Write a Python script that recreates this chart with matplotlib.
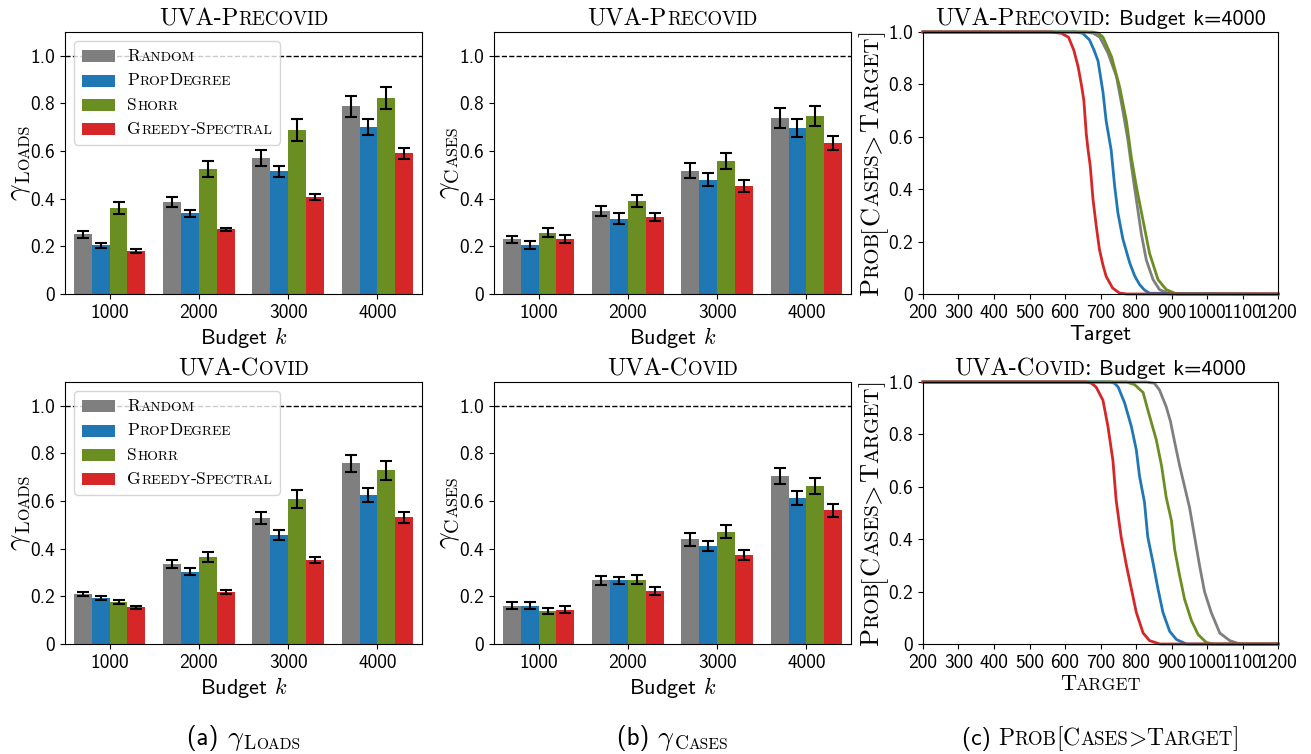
import matplotlib
matplotlib.use('Agg')
import matplotlib.pyplot as plt
import numpy as np
from matplotlib.transforms import offset_copy
from matplotlib.offsetbox import AnchoredOffsetbox, HPacker, VPacker, TextArea, DrawingArea
from matplotlib.patches import Rectangle

plt.rcParams['mathtext.fontset'] = 'cm'
plt.rcParams['font.family'] = 'cmss10'
plt.rcParams['axes.unicode_minus'] = False

methods = ['Random', 'PropDegree', 'Shorr', 'Greedy-Spectral']
colors = ['#7f7f7f', '#1f77b4', '#6b8e23', '#d62728']
budgets = ['1000', '2000', '3000', '4000']
yticks = [0, 0.2, 0.4, 0.6, 0.8, 1.0]
ytick_labels = ['0', '0.2', '0.4', '0.6', '0.8', '1.0']
target_ticks = [200, 300, 400, 500, 600, 700, 800, 900, 1000, 1100, 1200]

# gamma_loads / gamma_cases, rows = methods, cols = budgets
loads_pre = [[0.251, 0.387, 0.571, 0.788], [0.205, 0.339, 0.515, 0.701],
             [0.360, 0.524, 0.689, 0.823], [0.180, 0.272, 0.406, 0.591]]
loads_pre_err = [[0.015, 0.022, 0.034, 0.043], [0.010, 0.014, 0.023, 0.034],
                 [0.026, 0.033, 0.045, 0.047], [0.007, 0.007, 0.012, 0.024]]
cases_pre = [[0.229, 0.349, 0.517, 0.739], [0.205, 0.316, 0.479, 0.697],
             [0.257, 0.391, 0.559, 0.747], [0.232, 0.324, 0.454, 0.634]]
cases_pre_err = [[0.015, 0.022, 0.031, 0.040], [0.017, 0.022, 0.027, 0.036],
                 [0.019, 0.026, 0.034, 0.042], [0.016, 0.018, 0.024, 0.030]]
loads_cov = [[0.209, 0.335, 0.528, 0.758], [0.193, 0.303, 0.457, 0.624],
             [0.176, 0.366, 0.608, 0.729], [0.155, 0.219, 0.352, 0.532]]
loads_cov_err = [[0.008, 0.017, 0.025, 0.037], [0.008, 0.014, 0.022, 0.029],
                 [0.008, 0.021, 0.037, 0.041], [0.006, 0.009, 0.014, 0.022]]
cases_cov = [[0.161, 0.267, 0.440, 0.705], [0.161, 0.267, 0.412, 0.613],
             [0.138, 0.270, 0.471, 0.663], [0.144, 0.222, 0.373, 0.561]]
cases_cov_err = [[0.014, 0.020, 0.027, 0.035], [0.014, 0.016, 0.022, 0.029],
                 [0.013, 0.018, 0.028, 0.033], [0.014, 0.018, 0.021, 0.028]]

# Prob[Cases > Target] curves, budget k=4000
pre_gray_t = [200, 660, 680, 698, 721, 745, 763, 777, 787, 801, 815, 829, 848, 866, 895, 1200]
pre_gray_p = [1, 1, 0.995, 0.98, 0.92, 0.83, 0.70, 0.59, 0.49, 0.36, 0.23, 0.13, 0.055, 0.017, 0, 0]
pre_blue_t = [200, 630, 650, 669, 682, 693, 707, 716, 730, 740, 749, 763, 782, 796, 810, 824, 838, 1200]
pre_blue_p = [1, 1, 0.995, 0.97, 0.93, 0.89, 0.77, 0.66, 0.55, 0.41, 0.31, 0.21, 0.12, 0.07, 0.036, 0.015, 0.003, 0]
pre_green_t = [200, 679, 695, 707, 731, 754, 773, 787, 801, 820, 838, 862, 885, 914, 1200]
pre_green_p = [1, 1, 0.995, 0.98, 0.906, 0.79, 0.66, 0.52, 0.41, 0.28, 0.156, 0.055, 0.017, 0, 0]
pre_red_t = [200, 560, 590, 610, 625, 637, 646, 653, 660, 665, 671, 679, 688, 697, 707, 716, 734, 753, 773, 1200]
pre_red_p = [1, 1, 0.995, 0.98, 0.93, 0.867, 0.80, 0.74, 0.61, 0.55, 0.49, 0.36, 0.26, 0.17, 0.11, 0.067, 0.023, 0.004, 0, 0]

cov_gray_t = [200, 829, 852, 866, 885, 897, 909, 923, 937, 951, 965, 979, 993, 1012, 1036, 1064, 1092, 1200]
cov_gray_p = [1, 1, 0.995, 0.97, 0.906, 0.85, 0.77, 0.68, 0.60, 0.52, 0.41, 0.30, 0.20, 0.12, 0.042, 0.013, 0, 0]
cov_blue_t = [200, 726, 740, 750, 768, 787, 801, 810, 824, 833, 848, 862, 876, 895, 914, 942, 1200]
cov_blue_p = [1, 1, 0.995, 0.98, 0.92, 0.83, 0.74, 0.64, 0.54, 0.41, 0.31, 0.21, 0.12, 0.048, 0.017, 0, 0]
cov_green_t = [200, 773, 796, 820, 834, 857, 872, 885, 900, 909, 923, 937, 956, 975, 998, 1017, 1200]
cov_green_p = [1, 1, 0.99, 0.96, 0.89, 0.78, 0.68, 0.56, 0.47, 0.36, 0.26, 0.17, 0.09, 0.036, 0.006, 0, 0]
cov_red_t = [200, 660, 675, 688, 707, 721, 735, 744, 758, 773, 787, 801, 820, 838, 867, 1200]
cov_red_p = [1, 1, 0.995, 0.98, 0.93, 0.83, 0.70, 0.55, 0.41, 0.30, 0.21, 0.12, 0.042, 0.013, 0, 0]


def small_caps(word, big, small, fam='cmr10'):
    # fake \textsc: first letter large, rest upper case at a smaller size
    return [(word[0], big, fam, 0), (word[1:].upper(), small, fam, 0)]


def sc_text(fig, x, y, pieces, trans, rot=0, ox=0, oy=0):
    # lay text pieces one after the other, centered on (x, y)
    r = fig.canvas.get_renderer()
    arts = []
    pos = 0.0
    for s, size, fam, shift in pieces:
        t = fig.text(x, y, s, fontsize=size, family=fam, rotation=rot,
                     rotation_mode='anchor', ha='left', va='baseline', transform=trans)
        arts.append((t, pos, shift))
        bb = t.get_window_extent(r)
        pos += bb.width if rot == 0 else bb.height
    k = fig.dpi / 72.0
    for t, p, sh in arts:
        if rot == 0:
            dx, dy = ox * k - pos / 2 + p, (oy - sh) * k
        else:
            dx, dy = (ox + sh) * k, oy * k - pos / 2 + p
        t.set_transform(offset_copy(trans, fig=fig, x=dx, y=dy, units='dots'))


def bar_panel(ax, vals, errs):
    x = np.arange(len(budgets))
    w = 0.2
    for i in range(len(methods)):
        ax.bar(x + (i - 1.5) * w, vals[i], w, yerr=errs[i], color=colors[i], capsize=4,
               error_kw=dict(ecolor='k', elinewidth=1.5, capthick=1.5), zorder=2)
    ax.axhline(1.0, color='k', ls='--', lw=1, zorder=1)
    ax.set_xlim(-0.5, 3.5)
    ax.set_ylim(0, 1.1)
    ax.set_xticks(x)
    ax.set_xticklabels(budgets)
    ax.set_yticks(yticks)
    ax.set_yticklabels(ytick_labels)
    ax.tick_params(labelsize=14)
    ax.set_xlabel('Budget $k$', fontsize=16, labelpad=2)


def add_legend(ax):
    rows = []
    for name, c in zip(methods, colors):
        da = DrawingArea(24, 8.5, 0, 0)
        da.add_artist(Rectangle((0, 0), 24, 8.5, fc=c, ec='none'))
        pcs = []
        for j, seg in enumerate(name.split('-')):
            if j > 0:
                pcs.append(('-', 12.5, 'cmr10', 0))
            caps = [i for i, ch in enumerate(seg) if ch.isupper()]
            caps.append(len(seg))
            for a, b in zip(caps[:-1], caps[1:]):
                pcs += small_caps(seg[a:b], 12.5, 9.8)
        txt = HPacker(children=[TextArea(s, textprops=dict(fontsize=sz, family=f)) for s, sz, f, _ in pcs],
                      align='baseline', pad=0, sep=0)
        rows.append(HPacker(children=[da, txt], align='center', pad=0, sep=9))
    box = VPacker(children=rows, align='left', pad=0, sep=6.5)
    anch = AnchoredOffsetbox(loc='upper left', child=box, pad=0.45, borderpad=0.55,
                             frameon=True, prop=dict(size=12))
    anch.patch.set_boxstyle('round,pad=0,rounding_size=0.25')
    anch.patch.set_edgecolor('0.8')
    anch.patch.set_alpha(0.8)
    anch.zorder = 5
    ax.add_artist(anch)


def curve_panel(ax, curves):
    for t, p, c in curves:
        ax.plot(t, p, color=c, lw=2, clip_on=False)
    ax.set_xlim(200, 1200)
    ax.set_ylim(0, 1.0)
    ax.set_xticks(target_ticks)
    ax.set_xticklabels([str(v) for v in target_ticks])
    ax.set_yticks(yticks)
    ax.set_yticklabels(ytick_labels)
    ax.tick_params(labelsize=14)


fig = plt.figure(figsize=(13.11, 7.54), dpi=100)
W, H = 1311.0, 754.0
lefts = [65, 494, 923]
widths = [357, 357, 355]
tops = [32, 382]
hgt = 262
axes = {}
for r in range(2):
    for c in range(3):
        axes[(r, c)] = fig.add_axes([lefts[c] / W, 1 - (tops[r] + hgt) / H, widths[c] / W, hgt / H])

bar_panel(axes[(0, 0)], loads_pre, loads_pre_err)
bar_panel(axes[(0, 1)], cases_pre, cases_pre_err)
bar_panel(axes[(1, 0)], loads_cov, loads_cov_err)
bar_panel(axes[(1, 1)], cases_cov, cases_cov_err)
add_legend(axes[(0, 0)])
add_legend(axes[(1, 0)])

curve_panel(axes[(0, 2)], [(pre_gray_t, pre_gray_p, colors[0]), (pre_blue_t, pre_blue_p, colors[1]),
                           (pre_green_t, pre_green_p, colors[2]), (pre_red_t, pre_red_p, colors[3])])
curve_panel(axes[(1, 2)], [(cov_gray_t, cov_gray_p, colors[0]), (cov_blue_t, cov_blue_p, colors[1]),
                           (cov_green_t, cov_green_p, colors[2]), (cov_red_t, cov_red_p, colors[3])])
axes[(0, 2)].set_xlabel('Target', fontsize=16, labelpad=2)

# titles
pre_title = [('UVA-P', 17.5, 'cmr10', 0), ('RECOVID', 13.6, 'cmr10', 0)]
cov_title = [('UVA-C', 17.5, 'cmr10', 0), ('OVID', 13.6, 'cmr10', 0)]
for c in range(2):
    sc_text(fig, 0.5, 1.0, pre_title, axes[(0, c)].transAxes, oy=5)
    sc_text(fig, 0.5, 1.0, cov_title, axes[(1, c)].transAxes, oy=5)
sc_text(fig, 0.5, 1.0, pre_title + [(': ', 17.5, 'cmr10', 0), ('Budget k=4000', 16, 'cmss10', 0)],
        axes[(0, 2)].transAxes, oy=5)
sc_text(fig, 0.5, 1.0, cov_title + [(': ', 17.5, 'cmr10', 0), ('Budget k=4000', 16, 'cmss10', 0)],
        axes[(1, 2)].transAxes, oy=5)

# y labels
g_loads = [(r'$\gamma$', 21, 'cmr10', 0), ('L', 14.5, 'cmr10', 3), ('OADS', 11.5, 'cmr10', 3)]
g_cases = [(r'$\gamma$', 21, 'cmr10', 0), ('C', 14.5, 'cmr10', 3), ('ASES', 11.5, 'cmr10', 3)]
prob_lbl = (small_caps('Prob', 19, 15) + [('[', 19, 'cmr10', 0)] + small_caps('Cases', 19, 15)
            + [('>', 19, 'cmmi10', 0)] + small_caps('Target', 19, 15) + [(']', 19, 'cmr10', 0)])
for r in range(2):
    sc_text(fig, 0.0, 0.5, g_loads, axes[(r, 0)].transAxes, rot=90, ox=-29)
    sc_text(fig, 0.0, 0.5, g_cases, axes[(r, 1)].transAxes, rot=90, ox=-29)
    sc_text(fig, 0.0, 0.5, prob_lbl, axes[(r, 2)].transAxes, rot=90, ox=-32)

# small-caps x label of lower right panel
sc_text(fig, 0.5, 0.0, small_caps('Target', 16, 12.8), axes[(1, 2)].transAxes, oy=-33)

# captions
cap_y = 9 / H
cx = [(lefts[c] + widths[c] / 2) / W for c in range(3)]
sc_text(fig, cx[0], cap_y, [('(a) ', 18, 'cmss10', 0), (r'$\gamma$', 20, 'cmr10', 0),
                            ('L', 14, 'cmr10', 3), ('OADS', 11.2, 'cmr10', 3)], fig.transFigure)
sc_text(fig, cx[1], cap_y, [('(b) ', 18, 'cmss10', 0), (r'$\gamma$', 20, 'cmr10', 0),
                            ('C', 14, 'cmr10', 3), ('ASES', 11.2, 'cmr10', 3)], fig.transFigure)
cap_c = ([('(c) ', 17, 'cmss10', 0)] + small_caps('Prob', 17, 13.6) + [('[', 17, 'cmr10', 0)]
         + small_caps('Cases', 17, 13.6) + [('>', 17, 'cmmi10', 0)] + small_caps('Target', 17, 13.6)
         + [(']', 17, 'cmr10', 0)])
sc_text(fig, cx[2], cap_y, cap_c, fig.transFigure)

fig.savefig('out.png', dpi=100)
